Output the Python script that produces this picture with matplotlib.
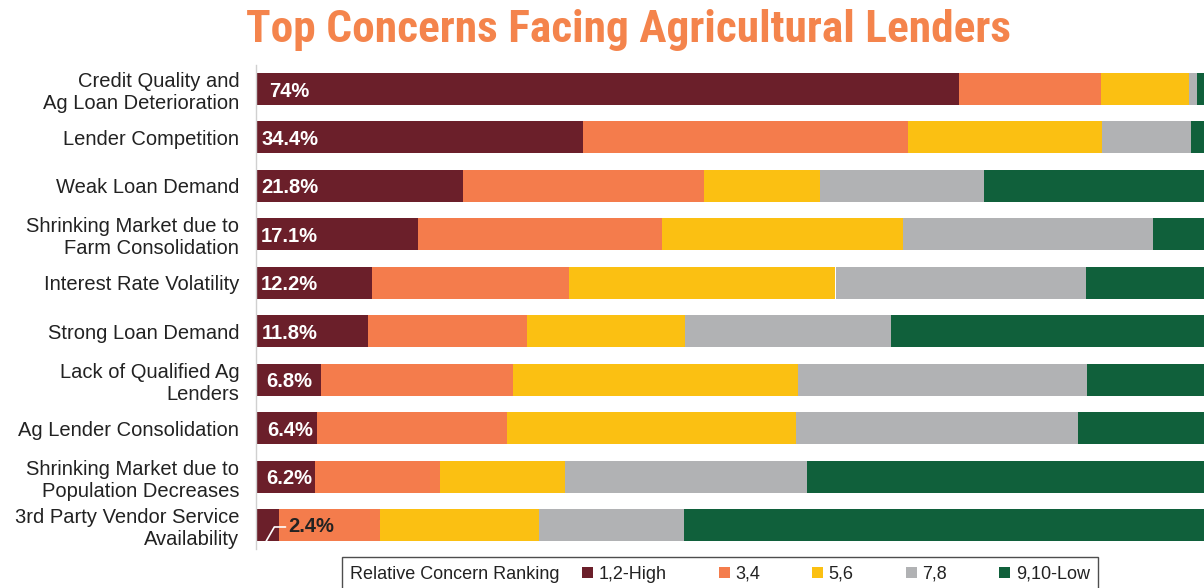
import matplotlib
matplotlib.use("Agg")
import matplotlib.pyplot as plt
from matplotlib.offsetbox import HPacker
import numpy as np

categories = [
    "Credit Quality and\nAg Loan Deterioration",
    "Lender Competition",
    "Weak Loan Demand",
    "Shrinking Market due to\nFarm Consolidation",
    "Interest Rate Volatility",
    "Strong Loan Demand",
    "Lack of Qualified Ag\nLenders",
    "Ag Lender Consolidation",
    "Shrinking Market due to\nPopulation Decreases",
    "3rd Party Vendor Service\nAvailability",
]
rank_12 = [74.0, 34.4, 21.8, 17.1, 12.2, 11.8, 6.8, 6.4, 6.2, 2.4]
rank_34 = [14.9, 34.2, 25.4, 25.6, 20.7, 16.7, 20.3, 20.0, 13.2, 10.7]
rank_56 = [9.3, 20.5, 12.2, 25.4, 28.1, 16.7, 30.0, 30.4, 13.1, 16.7]
rank_78 = [0.8, 9.3, 17.2, 26.3, 26.4, 21.6, 30.4, 29.7, 25.5, 15.2]
rank_910 = [1.0, 1.6, 23.4, 5.6, 12.6, 33.2, 12.5, 13.5, 42.0, 55.0]
value_labels = ["74%", "34.4%", "21.8%", "17.1%", "12.2%", "11.8%", "6.8%", "6.4%", "6.2%", "2.4%"]
series_names = ["1,2-High", "3,4", "5,6", "7,8", "9,10-Low"]
colors = ["#6B1F2A", "#F47C4C", "#FBC012", "#B1B2B4", "#10603B"]

plt.rcParams['font.family'] = ['Liberation Sans', 'DejaVu Sans']

fig = plt.figure(figsize=(12.04, 5.88), dpi=100)
ax = fig.add_axes([256/1204, 38.8/588, 950/1204, 484.4/588])

y = np.arange(len(categories))
left = np.zeros(len(categories))
for name, vals, c in zip(series_names, [rank_12, rank_34, rank_56, rank_78, rank_910], colors):
    v = np.array(vals)
    ax.barh(y, v, left=left, height=0.66, color=c, label=name, edgecolor='none')
    left += v

ax.set_xlim(0, 100)
ax.set_ylim(len(categories) - 0.5, -0.5)
ax.set_yticks(y)
ax.set_yticklabels(categories, fontsize=14.5, color="#222222", linespacing=1.2)
ax.tick_params(axis='y', length=0, pad=12)
ax.set_xticks([])
for s in ['top', 'right', 'bottom']:
    ax.spines[s].set_visible(False)
ax.spines['left'].set_color('#D0D0D0')
ax.spines['left'].set_linewidth(1)

for i, lab in enumerate(value_labels):
    if i == len(value_labels) - 1:
        ax.annotate(lab, xy=(rank_12[i] * 0.45, i + 0.33), xytext=(rank_12[i] + 1.0, i),
                    fontsize=14.5, fontweight='bold', color='#222222', ha='left', va='center_baseline',
                    arrowprops=dict(arrowstyle='-', color='white', lw=1.2,
                                    connectionstyle='angle,angleA=0,angleB=60', shrinkA=0, shrinkB=0))
    else:
        ax.text(3.55, i, lab, fontsize=14.5, fontweight='bold', color='white',
                ha='center', va='center_baseline')

fig.text(628/1204, 1 - 30/588, "Top Concerns Facing Agricultural Lenders",
         family=['Roboto Condensed', 'Liberation Sans'], fontweight='bold',
         fontsize=32.7, color='#F4844C', ha='center', va='center')

handles, labels = ax.get_legend_handles_labels()
leg = fig.legend(handles, labels,
                 loc='upper center', bbox_to_anchor=(720/1204, 1 - 548/588), ncol=5,
                 fontsize=13, frameon=True, fancybox=False, edgecolor='#222222',
                 handlelength=0.6, handleheight=0.6, handletextpad=0.3,
                 columnspacing=2.9, borderpad=0.35,
                 title="Relative Concern Ranking", title_fontsize=13)
try:
    fs = 13 * fig.dpi / 72.0
    newbox = HPacker(pad=leg.borderpad * fs, sep=0.9 * fs, align='center',
                     children=[leg._legend_title_box, leg._legend_handle_box])
    newbox.set_figure(fig)
    newbox.set_offset(leg._findoffset)
    leg._legend_box = newbox
except Exception:
    pass
leg.get_frame().set_linewidth(1.0)
for t in leg.get_texts():
    t.set_color('#222222')
leg.get_title().set_color('#222222')

fig.savefig("out.png", dpi=100)
